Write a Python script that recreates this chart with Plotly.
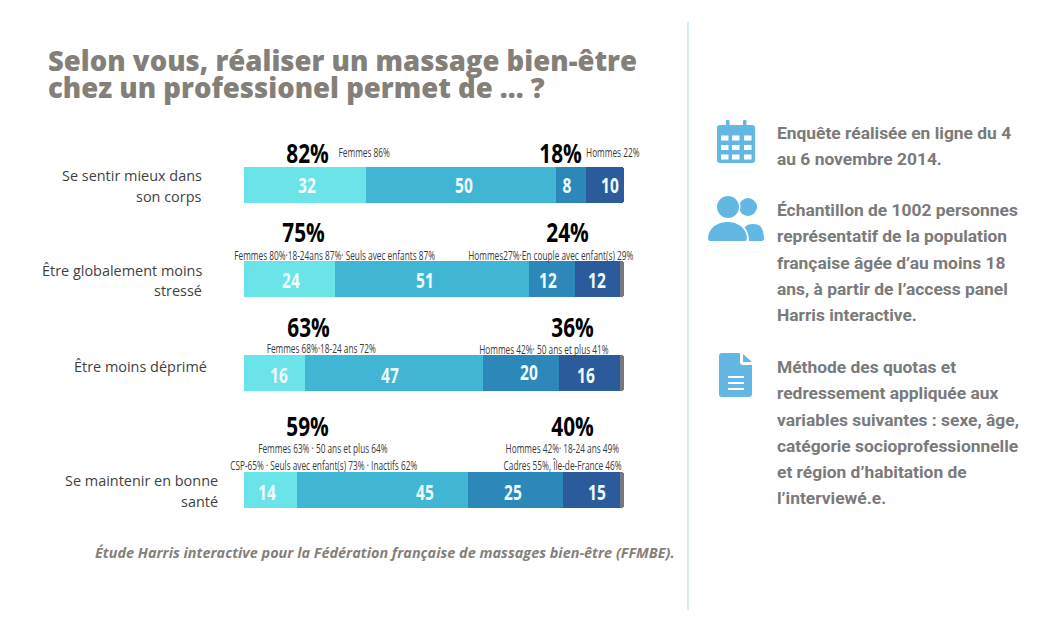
import plotly.graph_objects as go

W, H = 1049, 629
categories = ["Se sentir mieux dans<br>son corps", "Être globalement moins<br>stressé", "Être moins déprimé", "Se maintenir en bonne<br>santé"]
tout_a_fait = [32, 24, 16, 14]
plutot = [50, 51, 47, 45]
plutot_pas = [8, 12, 20, 25]
pas_du_tout = [10, 12, 16, 15]
nsp = [0, 1, 1, 1]
tot_left = ["82%", "75%", "63%", "59%"]
tot_right = ["18%", "24%", "36%", "40%"]
sub_left = [["Femmes 86%"], ["Femmes 80%·18-24ans 87%· Seuls avec enfants 87%"], ["Femmes 68%·18-24 ans 72%"],
            ["Femmes 63% · 50 ans et plus 64%", "CSP-65% · Seuls avec enfant(s) 73% · Inactifs 62%"]]
sub_right = [["Hommes 22%"], ["Hommes27%·En couple avec enfant(s) 29%"], ["Hommes 42%· 50 ans et plus 41%"],
             ["Hommes 42%· 18-24 ans 49%", "Cadres 55%, Île-de-France 46%"]]
title_lines = ["Selon vous, réaliser un massage bien-être", "chez un professionel permet de ... ?"]
source = "Étude Harris interactive pour la Fédération française de massages bien-être (FFMBE)."
side_1 = ["Enquête réalisée en ligne du 4", "au 6 novembre 2014."]
side_2 = ["Échantillon de 1002 personnes", "représentatif de la population", "française âgée d’au moins 18", "ans, à partir de l’access panel", "Harris interactive."]
side_3 = ["Méthode des quotas et", "redressement appliquée aux", "variables suivantes : sexe, âge,", "catégorie socioprofessionnelle", "et région d’habitation de", "l’interviewé.e."]

# layout (pixels)
row_y = [184.7, 279, 373, 490]
bar_h = 36
colors = ["#6ae4e9", "#40b6d4", "#2b88b8", "#2b5b9b", "#77787f"]
series = [tout_a_fait, plutot, plutot_pas, pas_du_tout, nsp]
label_x = [[307, 464, 567, 610], [291, 425, 548, 597], [279, 390, 529, 586], [267, 425, 513, 597]]
label_y = [[185] * 4, [280] * 4, [375, 375, 372, 375], [492] * 4]

fig = go.Figure()
for s, c in zip(series, colors):
    fig.add_trace(go.Bar(y=row_y, x=s, orientation="h", width=bar_h, marker=dict(color=c, line=dict(width=0)),
                         hoverinfo="skip", showlegend=False))

def txt(x, y, t, size, color, family, anchor="center", weight=400, italic=False):
    if italic:
        t = "<i>" + t + "</i>"
    fig.add_annotation(xref="paper", yref="paper", x=x / W, y=1 - y / H, text=t, showarrow=False,
                       xanchor=anchor, yanchor="middle", align="center" if anchor == "center" else anchor,
                       font=dict(size=size, color=color, family=family, weight=weight), borderpad=0, borderwidth=0)

OS = "Open Sans"
ROB = "Roboto"
GREY = "#857f79"

txt(48, 61, title_lines[0], 27.5, GREY, OS, "left", weight=800)
txt(48, 88, title_lines[1], 27.5, GREY, OS, "left", weight=800)

label_cy = [186, 280.5, 366, 491]
label_right = [202, 202, 207, 218]
for cat, ly, rx in zip(categories, label_cy, label_right):
    lines = cat.split("<br>")
    for i, ln in enumerate(lines):
        yy = ly + (i - (len(lines) - 1) / 2) * 20
        txt(rx, yy, ln, 14.45, "#3f3f3f", OS, "right")

for r in range(4):
    vals = [tout_a_fait[r], plutot[r], plutot_pas[r], pas_du_tout[r]]
    for j, v in enumerate(vals):
        txt(label_x[r][j], label_y[r][j], str(v), 21, "#eefbfd", OS, weight=700)

big_left_x = [307, 303, 308, 307]
big_right_x = [560, 567, 572, 572]
big_y = [152, 231.5, 326.5, 425.5]
for r in range(4):
    txt(big_left_x[r], big_y[r], tot_left[r], 27, "#000000", OS, weight=700)
    txt(big_right_x[r], big_y[r], tot_right[r], 27, "#000000", OS, weight=700)

sl_pos = [[(364, 153)], [(334, 255)], [(321, 348.5)], [(323, 449), (323, 465.5)]]
sr_pos = [[(613, 153)], [(551, 255)], [(544, 349.5)], [(562, 449), (562, 465.5)]]
for r in range(4):
    for t, (x, y) in zip(sub_left[r], sl_pos[r]):
        txt(x, y, t, 12, "#3a3a3a", OS)
    for t, (x, y) in zip(sub_right[r], sr_pos[r]):
        txt(x, y, t, 12, "#3a3a3a", OS)

txt(95, 552, source, 14.45, GREY, OS, "left", weight=700, italic=True)

SIDE = "#7a7a7a"
for lines, y0 in ((side_1, 133), (side_2, 210), (side_3, 367)):
    for i, ln in enumerate(lines):
        txt(777, y0 + i * 26.3, ln, 17.4, SIDE, ROB, "left", weight=700)

def px(x): return x / W
def py(y): return 1 - y / H

ICON = "#62b8e2"
shapes = [dict(type="line", xref="paper", yref="paper", x0=px(688), x1=px(688), y0=py(22), y1=py(610),
               line=dict(color="#a9d6e8", width=1))]

def P(x, y): return f"{px(x):.5f},{py(y):.5f}"

def rrect(x0, y0, x1, y1, r=0, color=ICON):
    d = ("M" + P(x0 + r, y0) + " L" + P(x1 - r, y0) + " Q" + P(x1, y0) + " " + P(x1, y0 + r) +
         " L" + P(x1, y1 - r) + " Q" + P(x1, y1) + " " + P(x1 - r, y1) +
         " L" + P(x0 + r, y1) + " Q" + P(x0, y1) + " " + P(x0, y1 - r) +
         " L" + P(x0, y0 + r) + " Q" + P(x0, y0) + " " + P(x0 + r, y0) + " Z")
    shapes.append(dict(type="path", xref="paper", yref="paper", path=d, fillcolor=color, line=dict(width=0)))

def circle(cx, cy, r, color=ICON):
    shapes.append(dict(type="circle", xref="paper", yref="paper", x0=px(cx - r), x1=px(cx + r), y0=py(cy - r), y1=py(cy + r),
                       fillcolor=color, line=dict(width=0)))

def body(x0, x1, top, bottom, color=ICON):
    cx = (x0 + x1) / 2
    d = ("M" + P(x0 + 2, bottom) + " Q" + P(x0, bottom) + " " + P(x0, bottom - 3) +
         " C" + P(x0 + 1, top + 4) + " " + P(cx - 8, top) + " " + P(cx, top) +
         " C" + P(cx + 8, top) + " " + P(x1 - 1, top + 4) + " " + P(x1, bottom - 3) +
         " Q" + P(x1, bottom) + " " + P(x1 - 2, bottom) + " Z")
    shapes.append(dict(type="path", xref="paper", yref="paper", path=d, fillcolor=color, line=dict(width=0)))

# calendar
rrect(717, 125, 755, 163, 3)
rrect(726, 120, 729.5, 128, 1)
rrect(743, 120, 746.5, 128, 1)
for cy in (138, 147.5, 157):
    for cx in (721, 732, 744):
        rrect(cx, cy - 2.5, cx + 7.5, cy + 2.5, 0, "#ffffff")
# people
circle(748, 207, 9)
body(742, 764, 224, 241)
circle(728, 207, 12.5, "#ffffff")
body(706, 749, 220, 243, "#ffffff")
circle(728, 207, 11)
body(708, 747, 222, 241)
# document
d = ("M" + P(722, 353) + " L" + P(740, 353) + " L" + P(740, 362) + " Q" + P(740, 365) + " " + P(743, 365) +
     " L" + P(752, 365) + " L" + P(752, 394) + " Q" + P(752, 397) + " " + P(749, 397) +
     " L" + P(722, 397) + " Q" + P(719, 397) + " " + P(719, 394) + " L" + P(719, 356) + " Q" + P(719, 353) + " " + P(722, 353) + " Z")
shapes.append(dict(type="path", xref="paper", yref="paper", fillcolor=ICON, line=dict(width=0), path=d))
d2 = "M" + P(743, 354) + " L" + P(752, 362) + " L" + P(743, 362) + " Z"
shapes.append(dict(type="path", xref="paper", yref="paper", fillcolor=ICON, line=dict(width=0), path=d2))
for y in (377, 383, 389):
    rrect(728, y - 0.9, 744, y + 0.9, 0, "#ffffff")

fig.update_layout(
    width=W, height=H, margin=dict(l=0, r=0, t=0, b=0), barmode="stack", bargap=0, barcornerradius=3,
    paper_bgcolor="#ffffff", plot_bgcolor="rgba(0,0,0,0)", showlegend=False, shapes=shapes,
    xaxis=dict(domain=[244 / W, 624 / W], range=[0, 100], visible=False, fixedrange=True),
    yaxis=dict(domain=[0, 1], range=[H, 0], visible=False, fixedrange=True),
)
# Condensed look for the chart's number and sub-labels: no condensed face is installed,
# so the real text elements are narrowed horizontally around their own centre.
post = """
document.body.style.margin='0';document.body.style.overflow='hidden';
var sc={'27px':0.77,'21px':0.74,'12px':0.69};
document.querySelectorAll('text.annotation-text').forEach(function(t){
  var s=sc[t.style.fontSize];
  if(!s){return;}
  var b=t.getBBox();var c=b.x+b.width/2;
  t.setAttribute('transform','translate('+c+',0) scale('+s+',1) translate('+(-c)+',0)');
});
"""
fig.write_html("out.html", config=dict(displayModeBar=False), post_script=post)
